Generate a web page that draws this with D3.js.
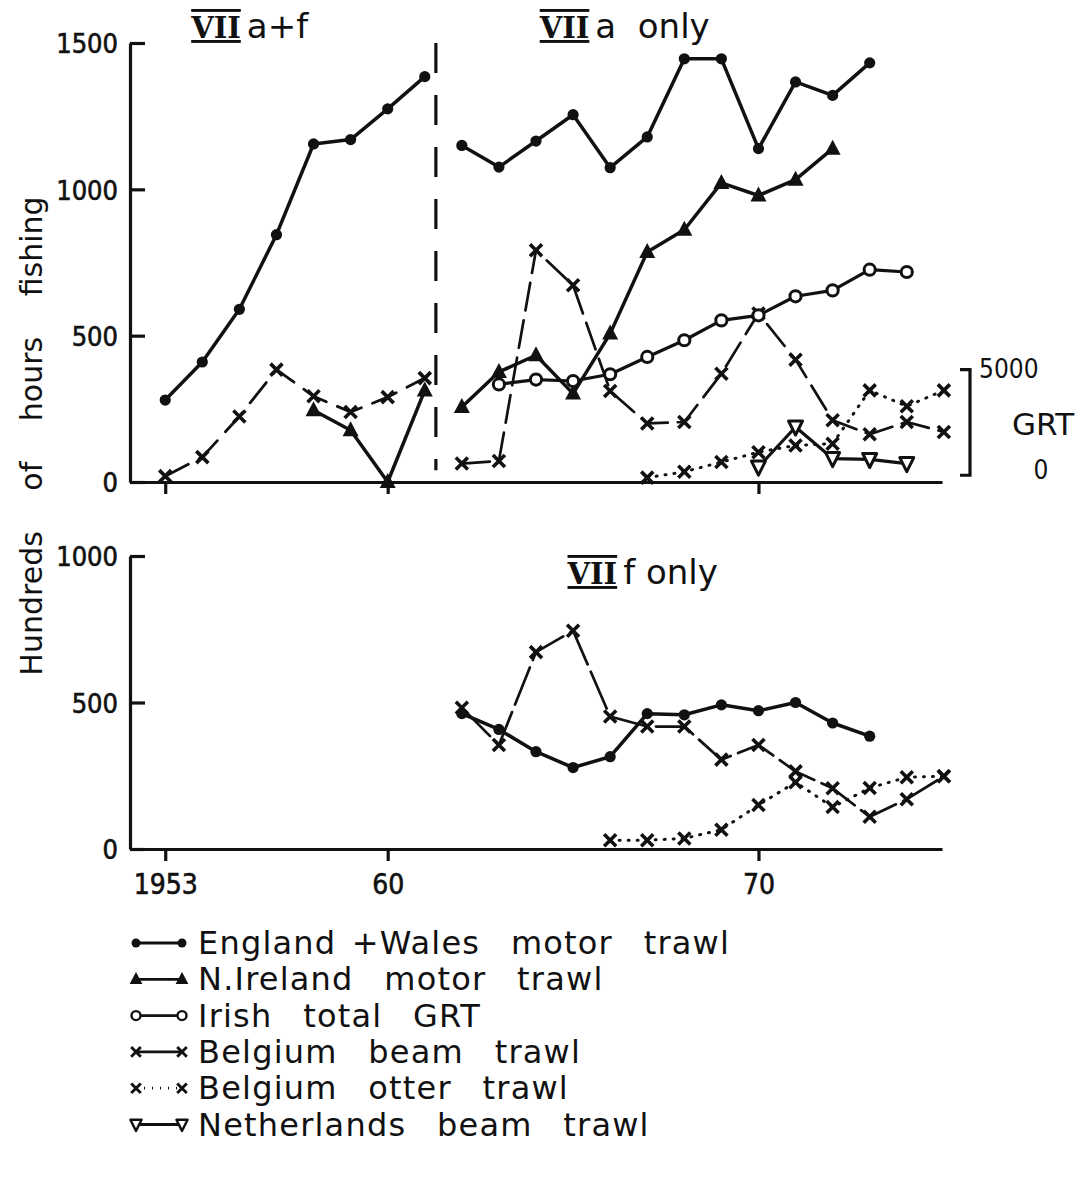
<!DOCTYPE html>
<html>
<head>
<meta charset="utf-8">
<script src="https://cdn.jsdelivr.net/npm/d3@7"></script>
<style>
  html, body { margin: 0; padding: 0; background: #fff; }
  svg { display: block; }
  text { fill: #111; }
</style>
</head>
<body>
<svg id="chart" width="1084" height="1199"></svg>
<script>
// ---- data (hundreds of hours fishing, Irish fleet in GRT) ----

// VII a+f combined
var yearsAF       = [1954, 1955, 1956, 1957, 1958, 1959, 1960, 1961];
var engWalesAF    = [280, 410, 590, 845, 1155, 1170, 1275, 1385];
var belgBeamAF    = [20, 85, 224, 384, 293, 239, 290, 355];
var nIreYearsAF   = [1958, 1959, 1960, 1961];
var nIrelandAF    = [245, 177, 0, 313];

// VII a only
var engWalesYearsA = [1962, 1963, 1964, 1965, 1966, 1967, 1968, 1969, 1970, 1971, 1972, 1973];
var engWalesA      = [1150, 1076, 1165, 1255, 1074, 1179, 1446, 1446, 1139, 1367, 1321, 1432];
var nIreYearsA     = [1962, 1963, 1964, 1965, 1966, 1967, 1968, 1969, 1970, 1971, 1972];
var nIrelandA      = [256, 376, 433, 302, 507, 786, 862, 1022, 979, 1033, 1139];
var irishYears     = [1963, 1964, 1965, 1966, 1967, 1968, 1969, 1970, 1971, 1972, 1973, 1974];
var irishGRT       = [4300, 4530, 4460, 4780, 5600, 6390, 7330, 7570, 8470, 8750, 9730, 9620];
var beamYearsA     = [1962, 1963, 1964, 1965, 1966, 1967, 1968, 1969, 1970, 1971, 1972, 1973, 1974, 1975];
var belgBeamA      = [63, 72, 792, 672, 311, 200, 205, 370, 576, 418, 211, 163, 205, 171];
var otterYearsA    = [1967, 1968, 1969, 1970, 1971, 1972, 1973, 1974, 1975];
var belgOtterA     = [15, 35, 68, 102, 125, 131, 313, 259, 313];
var nethYearsA     = [1970, 1971, 1972, 1973, 1974];
var nethBeamA      = [51, 188, 80, 77, 63];

// VII f only
var engWalesYearsF = [1962, 1963, 1964, 1965, 1966, 1967, 1968, 1969, 1970, 1971, 1972, 1973];
var engWalesF      = [462, 408, 332, 278, 315, 462, 458, 492, 472, 500, 430, 385];
var beamYearsF     = [1962, 1963, 1964, 1965, 1966, 1967, 1968, 1969, 1970, 1971, 1972, 1973, 1974, 1975];
var belgBeamF      = [482, 355, 672, 745, 452, 418, 418, 305, 355, 265, 207, 110, 170, 248];
var otterYearsF    = [1966, 1967, 1968, 1969, 1970, 1971, 1972, 1973, 1974, 1975];
var belgOtterF     = [30, 30, 36, 66, 150, 228, 143, 208, 245, 248];

// axes
var tickYears  = [1954, 1960, 1970];   // first tick sits under the first plotted season
var tickLabels = ['1953', '60', '70'];
var topTicks   = [0, 500, 1000, 1500];
var botTicks   = [0, 500, 1000];
var grtTicks   = [0, 5000];

var legendLabels = [
  'England +Wales  motor  trawl',
  'N.Ireland  motor  trawl',
  'Irish  total  GRT',
  'Belgium  beam  trawl',
  'Belgium  otter  trawl',
  'Netherlands  beam  trawl'
];

// ---- layout ----
var svg = d3.select('#chart');
var ink = '#111';

var x = d3.scaleLinear().domain([1953.05, 1974.95]).range([130, 942]);
var yTop = d3.scaleLinear().domain([0, 1500]).range([482, 43]);
var yBot = d3.scaleLinear().domain([0, 1000]).range([849, 556]);
// GRT scale bar on the right of the upper panel
var yGRT = d3.scaleLinear().domain([0, 5000]).range([yTop(23), yTop(384)]);

var numFont = '"DejaVu Sans Condensed", "DejaVu Sans", sans-serif';
var txtFont = '"DejaVu Sans", sans-serif';

// marker shapes
var shapes = {
  dot:    function(g){ g.append('circle').attr('r', 5.6).attr('fill', ink); },
  tri:    function(g){ g.append('path').attr('d', 'M0,-9L8,6L-8,6Z').attr('fill', ink); },
  ring:   function(g){ g.append('circle').attr('r', 5.6).attr('fill', '#fff').attr('stroke', ink).attr('stroke-width', 3); },
  cross:  function(g){ g.append('path').attr('d', 'M-6,-6L6,6M-6,6L6,-6').attr('stroke', ink).attr('stroke-width', 3.6).attr('fill', 'none'); },
  dtri:   function(g){ g.append('path').attr('d', 'M-7,-6L7,-6L0,8Z').attr('fill', '#fff').attr('stroke', ink).attr('stroke-width', 3).attr('stroke-linejoin', 'round'); }
};

function series(yScale, years, values, shape, width, dash) {
  var pts = years.map(function(yr, i){ return [x(yr), yScale(values[i])]; });
  var line = d3.line();
  svg.append('path')
    .attr('d', line(pts))
    .attr('fill', 'none')
    .attr('stroke', ink)
    .attr('stroke-width', width)
    .attr('stroke-linecap', 'round')
    .attr('stroke-linejoin', 'round')
    .attr('stroke-dasharray', dash || null);
  svg.append('g').selectAll('g')
    .data(pts)
    .enter()
    .append('g')
    .attr('transform', function(d){ return 'translate(' + d[0] + ',' + d[1] + ')'; })
    .each(function(){ shapes[shape](d3.select(this)); });
}

function axes(yScale, ticks, labelled) {
  var yAxis = d3.axisLeft(yScale).tickValues(ticks).tickSize(-15).tickSizeOuter(0).tickPadding(12)
    .tickFormat(d3.format('d'));
  var gy = svg.append('g').attr('transform', 'translate(' + x.range()[0] + ',0)').call(yAxis);
  gy.attr('font-size', null).attr('font-family', null);
  gy.selectAll('path, line').attr('stroke', ink).attr('stroke-width', 3.2);
  gy.selectAll('text').style('font-family', numFont).style('font-size', '27px')
    .style('stroke', ink).style('stroke-width', '0.6px').attr('dy', '0.36em');

  var xAxis = d3.axisBottom(x).tickValues(tickYears).tickSize(12).tickSizeOuter(0).tickPadding(13)
    .tickFormat(function(d, i){ return labelled ? tickLabels[i] : ''; });
  var gx = svg.append('g').attr('transform', 'translate(0,' + yScale(0) + ')').call(xAxis);
  gx.attr('font-size', null).attr('font-family', null);
  gx.selectAll('path, line').attr('stroke', ink).attr('stroke-width', 3.2);
  gx.selectAll('text').style('font-family', numFont).style('font-size', '28px')
    .style('stroke', ink).style('stroke-width', '0.6px');
}

axes(yTop, topTicks, false);
axes(yBot, botTicks, true);

// VII a+f / VII a boundary
svg.append('line')
  .attr('x1', x(1961.3)).attr('x2', x(1961.3))
  .attr('y1', yTop(1500)).attr('y2', yTop(40))
  .attr('stroke', ink).attr('stroke-width', 3.2)
  .attr('stroke-dasharray', '30,22');

// GRT scale bar
var barX = x.range()[1] + 28;
svg.append('path')
  .attr('d', 'M' + (barX - 10) + ',' + yGRT(5000) + 'H' + barX + 'V' + yGRT(0) + 'H' + (barX - 10))
  .attr('fill', 'none').attr('stroke', ink).attr('stroke-width', 3.2);
svg.append('text').attr('x', barX + 9).attr('y', yGRT(5000) + 8)
  .style('font-family', numFont).style('font-size', '26px').text(grtTicks[1]);
svg.append('text').attr('x', barX + 73).attr('y', yGRT(2500) + 13).attr('text-anchor', 'middle')
  .style('font-family', txtFont).style('font-size', '31px').text('GRT');
svg.append('text').attr('x', barX + 71).attr('y', yGRT(0) + 4).attr('text-anchor', 'middle')
  .style('font-family', numFont).style('font-size', '26px').text(grtTicks[0]);

// upper panel: VII a+f
series(yTop, yearsAF, belgBeamAF, 'cross', 2.8, '26,12');
series(yTop, nIreYearsAF, nIrelandAF, 'tri', 3.5);
series(yTop, yearsAF, engWalesAF, 'dot', 3.5);

// upper panel: VII a only
series(yTop, otterYearsA, belgOtterA, 'cross', 3, '1,8');
series(yTop, beamYearsA, belgBeamA, 'cross', 2.7, '28,10');
series(yTop, engWalesYearsA, engWalesA, 'dot', 3.5);
series(yTop, nIreYearsA, nIrelandA, 'tri', 3.5);
series(yGRT, irishYears, irishGRT, 'ring', 3.2);
series(yTop, nethYearsA, nethBeamA, 'dtri', 3.2);

// lower panel: VII f only
series(yBot, otterYearsF, belgOtterF, 'cross', 3, '1,8');
series(yBot, beamYearsF, belgBeamF, 'cross', 2.7, '40,8');
series(yBot, engWalesYearsF, engWalesF, 'dot', 3.5);

// panel titles
function title(px, py, rest) {
  var t = svg.append('text').attr('x', px).attr('y', py)
    .style('font-family', txtFont).style('font-size', '34px');
  t.append('tspan').style('font-family', '"DejaVu Serif", serif').style('font-weight', 'bold')
    .style('font-size', '29px')
    .style('text-decoration', 'underline overline').text('VII');
  t.append('tspan').attr('dx', 6).attr('xml:space', 'preserve').text(rest);
}
title(x(1954.7), 38, 'a+f');
title(x(1964.1), 38, 'a  only');
title(x(1964.85), 584, 'f only');

// y axis title
svg.append('text')
  .attr('transform', 'translate(42,436) rotate(-90)')
  .attr('text-anchor', 'middle')
  .style('font-family', txtFont).style('font-size', '30px')
  .style('word-spacing', '31px')
  .text('Hundreds of hours fishing');

// legend
var legendShapes = ['dot', 'tri', 'ring', 'cross', 'cross', 'dtri'];
var legendDash = [null, null, null, null, '1,7', null];
var lg = svg.append('g');
legendLabels.forEach(function(label, i){
  var ly = 943 + i * 36.3;
  var row = lg.append('g').attr('transform', 'translate(0,' + ly + ')');
  row.append('line').attr('x1', 136).attr('x2', 182).attr('y1', 0).attr('y2', 0)
    .attr('stroke', ink).attr('stroke-width', 2.8).attr('stroke-dasharray', legendDash[i]);
  [136, 182].forEach(function(mx){
    var m = row.append('g').attr('transform', 'translate(' + mx + ',0) scale(0.8)');
    shapes[legendShapes[i]](m);
  });
  row.append('text').attr('x', 198).attr('y', 11)
    .style('font-family', txtFont).style('font-size', '32px')
    .style('letter-spacing', '1.2px').style('word-spacing', '4px')
    .attr('xml:space', 'preserve')
    .text(label);
});
</script>
</body>
</html>
